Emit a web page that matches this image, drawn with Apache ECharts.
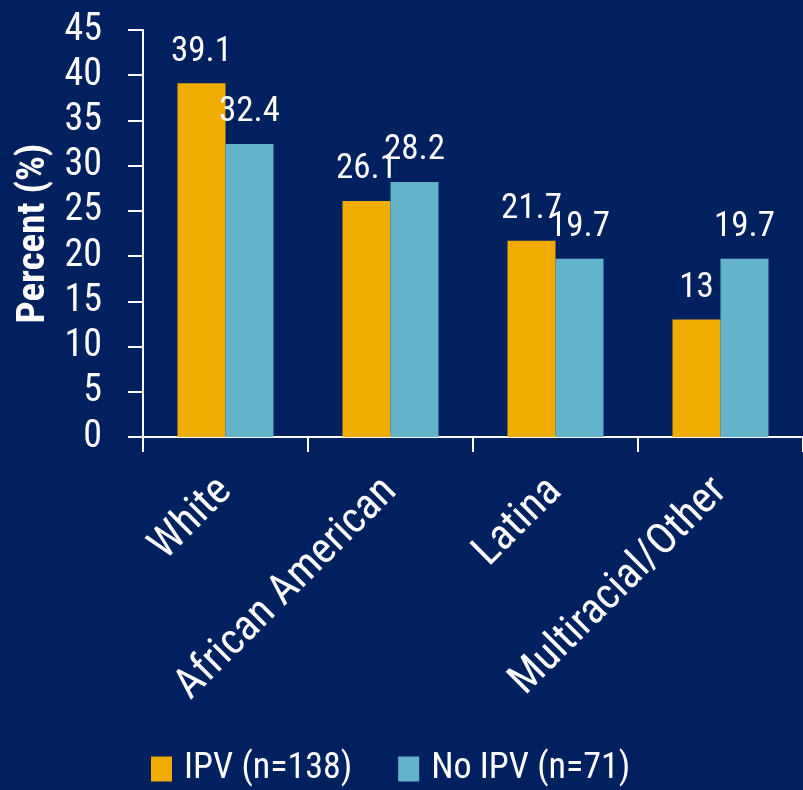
<!DOCTYPE html>
<html>
<head>
<meta charset="utf-8">
<script src="https://cdn.jsdelivr.net/npm/echarts@6/dist/echarts.min.js"></script>
<style>
  html, body { margin: 0; padding: 0; background: #00205f; }
  #main { width: 803px; height: 790px; }
</style>
</head>
<body>
<div id="main"></div>
<script>
var categories = ['White', 'African American', 'Latina', 'Multiracial/Other'];
var ipv = [39.1, 26.1, 21.7, 13];
var noIpv = [32.4, 28.2, 19.7, 19.7];
var yTicks = { min: 0, max: 45, interval: 5 };

// narrow face, close to the slide's condensed Arial
var font = '"Roboto Condensed", "Liberation Sans", sans-serif';

var chart = echarts.init(document.getElementById('main'));

var labelStyle = {
    show: true,
    position: 'top',
    distance: 14,
    color: '#ffffff',
    fontSize: 35,
    fontFamily: font
};

chart.setOption({
    backgroundColor: '#00205f',
    animation: false,
    grid: { left: 143, right: -6, top: 30, bottom: 353 },
    legend: {
        bottom: -2,
        left: 146,
        itemWidth: 21,
        itemHeight: 25,
        itemGap: 46,
        icon: 'rect',
        data: ['IPV (n=138)', 'No IPV (n=71)'],
        textStyle: { color: '#ffffff', fontSize: 36, fontFamily: font, padding: [0, 0, 0, 7] }
    },
    xAxis: {
        type: 'category',
        data: categories,
        axisLine: { show: true, lineStyle: { color: '#ffffff', width: 2 } },
        axisTick: { show: true, length: 15, lineStyle: { color: '#ffffff', width: 2 } },
        axisLabel: {
            interval: 0,
            rotate: 45,
            margin: 48,
            color: '#ffffff',
            fontSize: 43,
            fontFamily: font
        }
    },
    yAxis: {
        type: 'value',
        min: yTicks.min,
        max: yTicks.max,
        interval: yTicks.interval,
        name: 'Percent (%)',
        nameLocation: 'middle',
        nameGap: 84,
        nameTextStyle: { color: '#ffffff', fontSize: 39, fontWeight: 'bold', fontFamily: font },
        axisLine: { show: true, lineStyle: { color: '#ffffff', width: 2 } },
        axisTick: { show: true, length: 15, lineStyle: { color: '#ffffff', width: 2 } },
        splitLine: { show: false },
        axisLabel: { color: '#ffffff', fontSize: 38, margin: 41, fontFamily: font }
    },
    series: [
        {
            name: 'IPV (n=138)',
            type: 'bar',
            data: ipv,
            barWidth: 48,
            barGap: '0%',
            itemStyle: { color: '#f0ac00' },
            label: labelStyle
        },
        {
            name: 'No IPV (n=71)',
            type: 'bar',
            data: noIpv,
            barWidth: 48,
            barGap: '0%',
            itemStyle: { color: '#63b3cb' },
            label: labelStyle
        }
    ]
});
</script>
</body>
</html>
